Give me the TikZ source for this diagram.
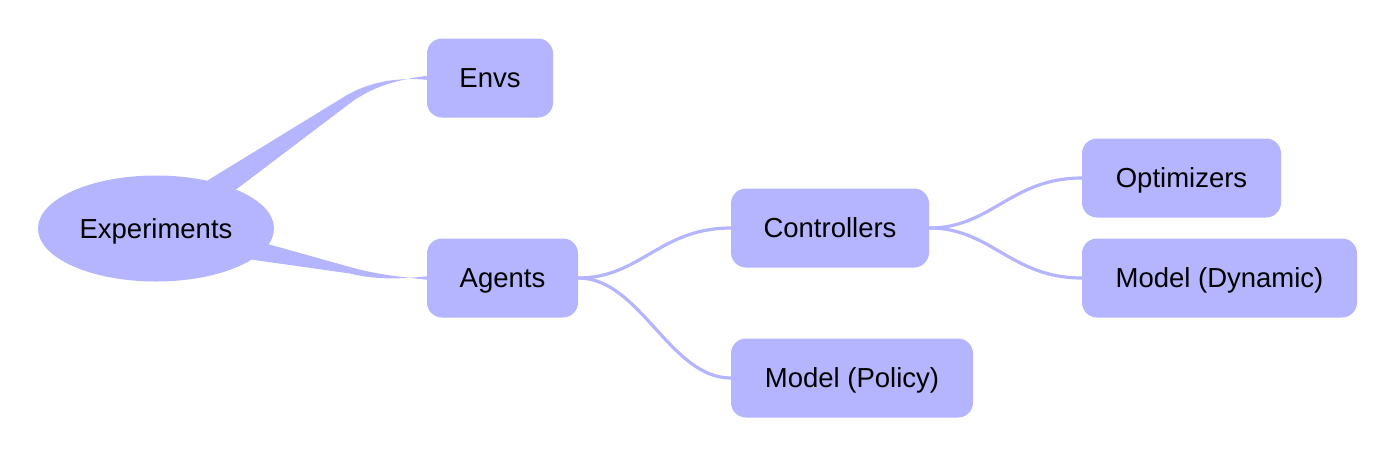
\documentclass[tikz,border=0pt]{standalone}
\usepackage{fontspec}
\setmainfont{Liberation Sans}
\usetikzlibrary{shapes.geometric,calc,backgrounds}
\definecolor{mm}{HTML}{B4B4FF}
\begin{document}
\begin{tikzpicture}[x=1pt,y=-1pt,
  every node/.style={font=\fontsize{27.5}{32}\selectfont, text=black, text height=19.7pt, text depth=0pt},
  box/.style={fill=mm, rounded corners=15pt, minimum height=79pt, inner sep=0pt},
  link/.style={draw=mm, line width=3.2pt, line cap=round}]
\useasboundingbox (0,0) rectangle (1396,456);
\node[ellipse, fill=mm, minimum width=236pt, minimum height=106pt, inner sep=0pt] (root) at (156,228.5) {Experiments};
\node[box, minimum width=126pt] (envs) at (490,78) {Envs};
\node[box, minimum width=151pt] (agents) at (502.5,278) {Agents};
\node[box, minimum width=198pt] (ctrl) at (830,228) {Controllers};
\node[box, minimum width=242pt] (policy) at (852,378) {Model (Policy)};
\node[box, minimum width=199pt] (opt) at (1181.5,178) {Optimizers};
\node[box, minimum width=275pt] (dyn) at (1219.5,278) {Model (Dynamic)};
\begin{pgfonlayer}{background}
\fill[mm] (root.43) -- (347,95) .. controls (365,85) and (390,76.5) .. ($(envs.west)+(0,1.8)$)
  -- ($(envs.west)+(0,-2.2)$) .. controls (392,80.5) and (372,88) .. (353,101) -- (root.26.5) -- cycle;
\fill[mm] (root.-8.6) -- (350,267) .. controls (375,274) and (395,276.3) .. ($(agents.west)+(0,1.7)$)
  -- ($(agents.west)+(0,-1.7)$) .. controls (395,279.7) and (372,279) .. (350,273.5) -- (root.-18) -- cycle;
\draw[link] (agents.east) .. controls ++(62,0) and ++(-71,0) .. (ctrl.west);
\draw[link] (agents.east) .. controls ++(62,0) and ++(-61,0) .. (policy.west);
\draw[link] (ctrl.east) .. controls ++(62,0) and ++(-71,0) .. (opt.west);
\draw[link] (ctrl.east) .. controls ++(62,0) and ++(-71,0) .. (dyn.west);
\end{pgfonlayer}
\end{tikzpicture}
\end{document}
